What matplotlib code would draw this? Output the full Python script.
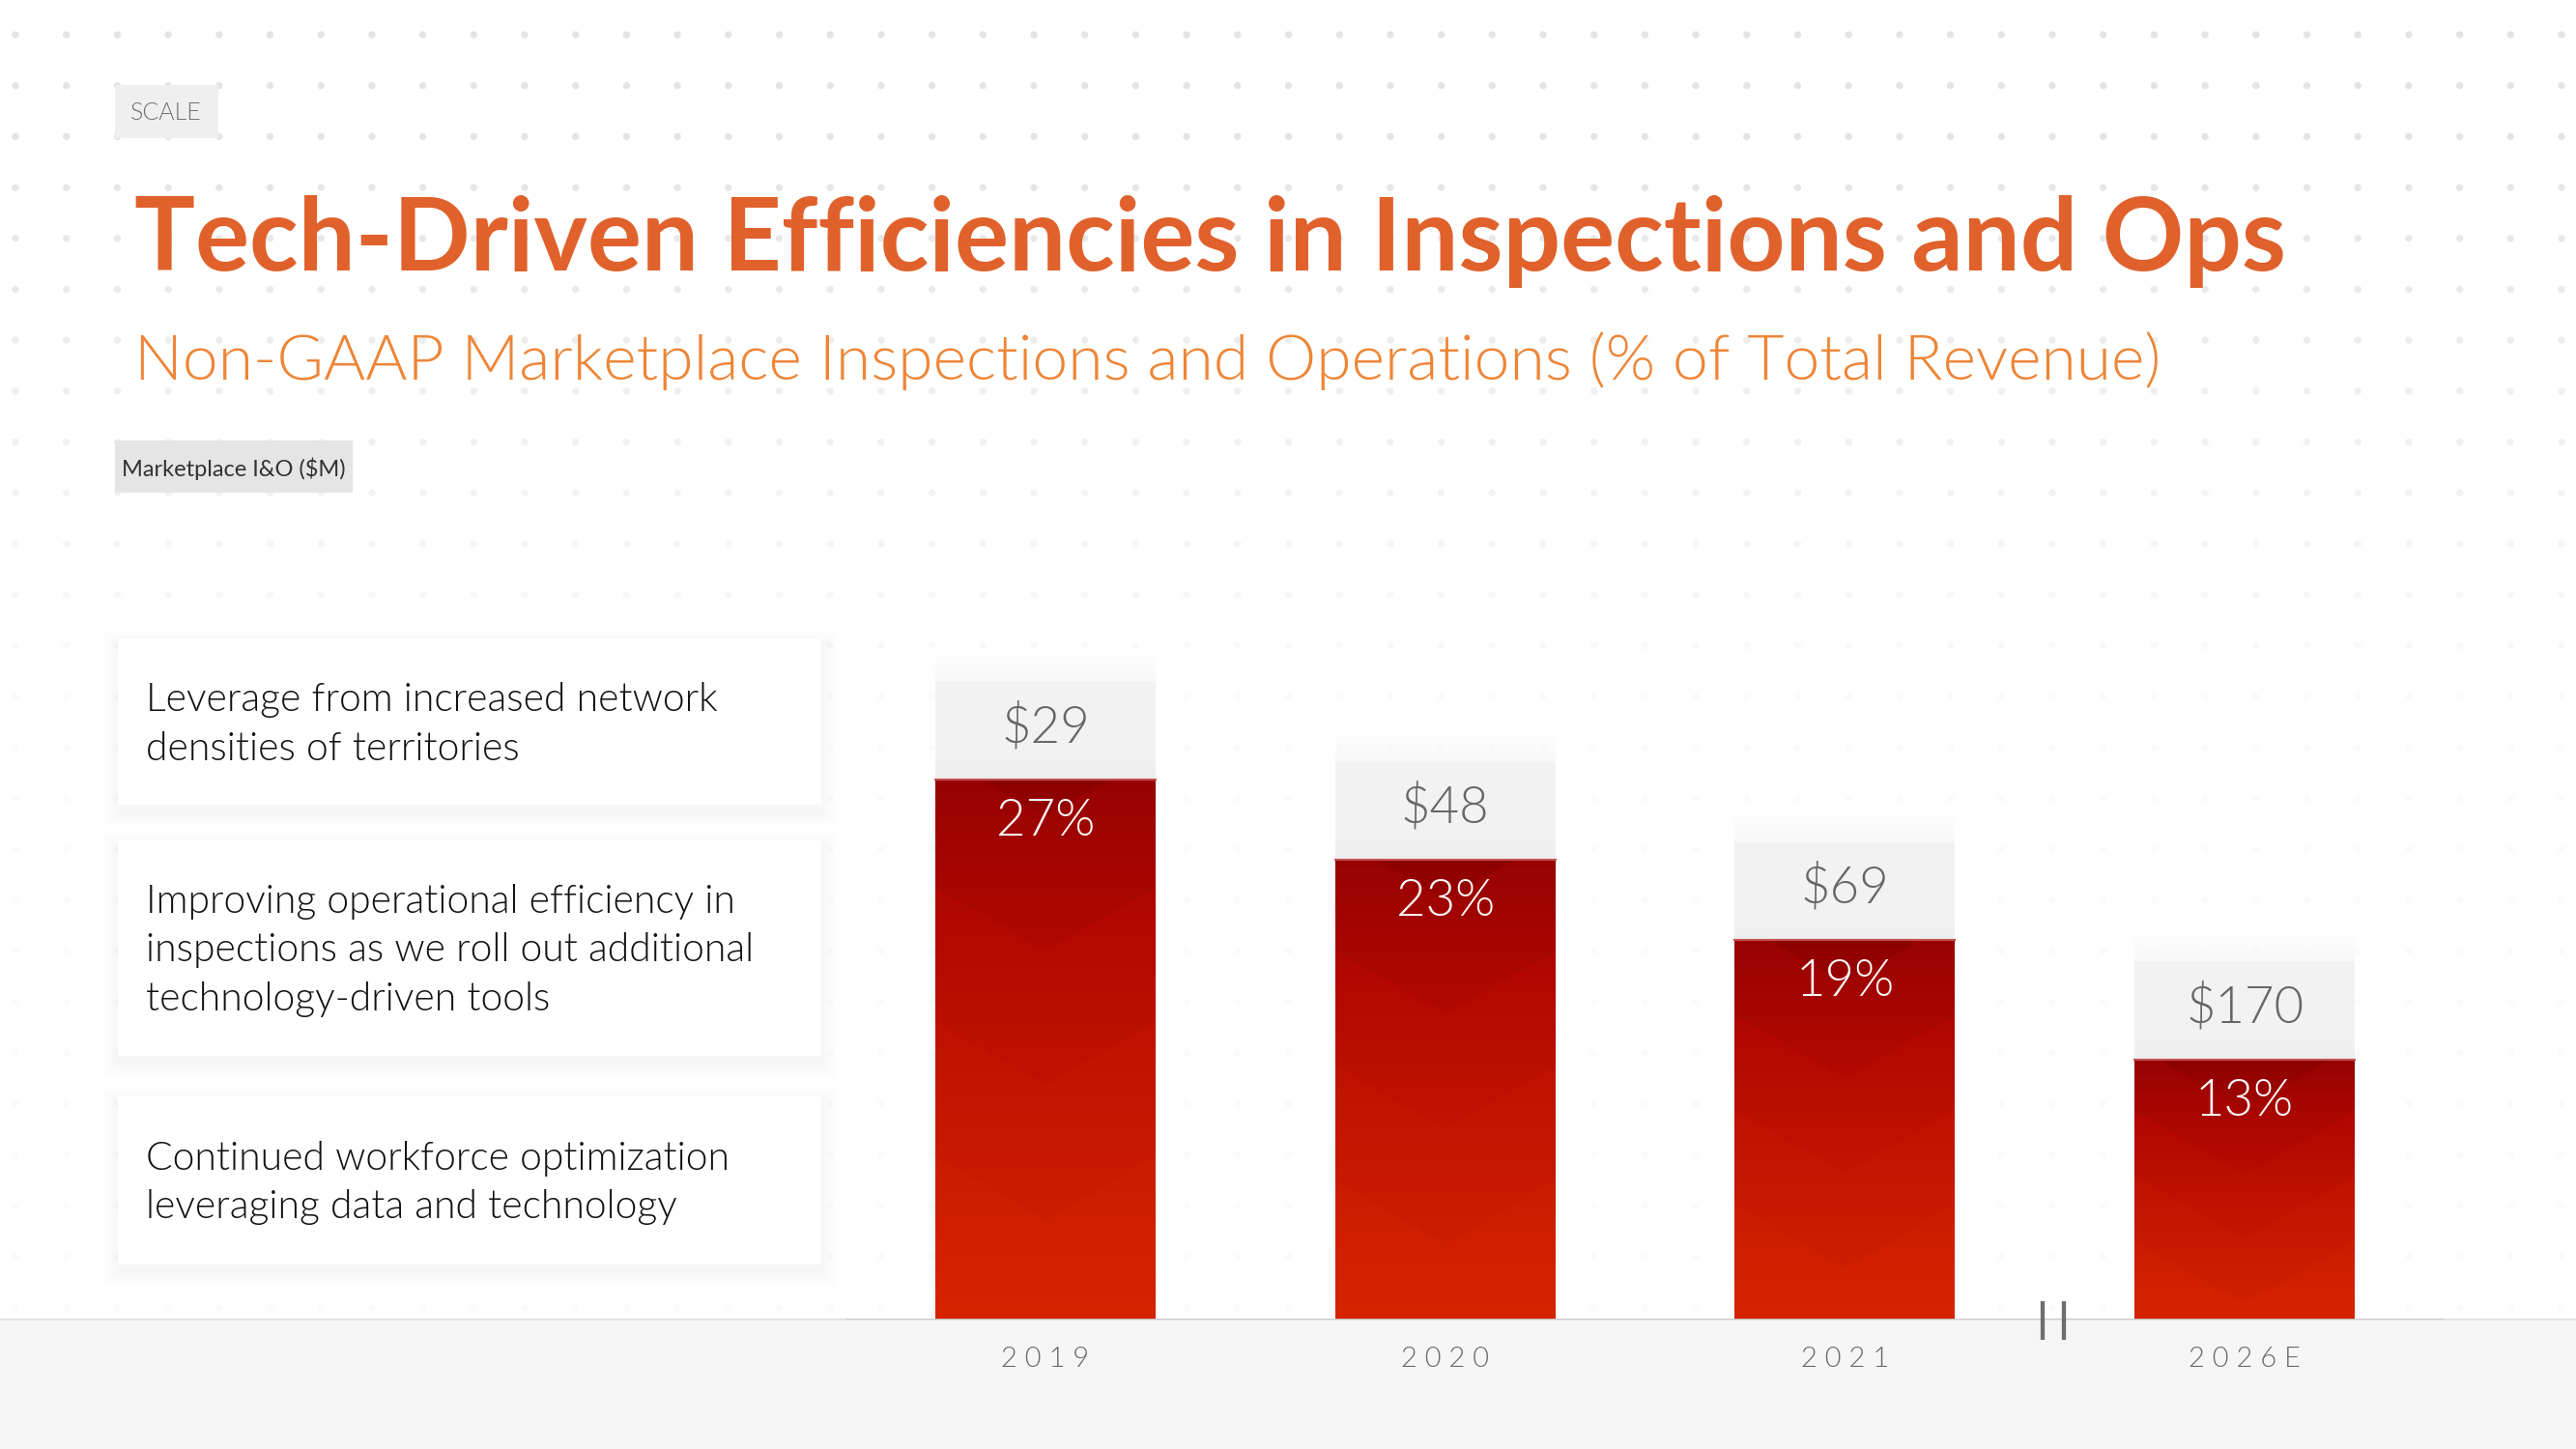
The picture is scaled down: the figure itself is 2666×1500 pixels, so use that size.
import matplotlib
matplotlib.use('Agg')
import matplotlib.pyplot as plt
import numpy as np
from matplotlib.patches import Rectangle
from matplotlib.colors import to_rgb

# data
years = ['2019', '2020', '2021', '2026E']
pct_of_revenue = [27, 23, 19, 13]
io_spend = [29, 48, 69, 170]   # Marketplace I&O ($M)
drivers = [
    'Leverage from increased network\ndensities of territories',
    'Improving operational efficiency in\ninspections as we roll out additional\ntechnology-driven tools',
    'Continued workforce optimization\nleveraging data and technology',
]

plt.rcParams['font.family'] = ['Lato', 'DejaVu Sans']
LIGHT = 300

W, H = 2666, 1500
fig = plt.figure(figsize=(26.66, 15), dpi=100)
fig.patch.set_facecolor('white')

# --- background layer in pixel coords ---
bg = fig.add_axes([0, 0, 1, 1])
bg.set_xlim(0, W)
bg.set_ylim(H, 0)
bg.axis('off')

# dotted grid fading downwards
gx, gy = np.meshgrid(np.arange(16, W, 52.7), np.arange(36, 1360, 52.7))
gx, gy = gx.ravel(), gy.ravel()
alpha = np.clip(1.0 - (gy - 120) / 700.0, 0.12, 1.0)
cols = np.zeros((len(gx), 4))
cols[:, :3] = to_rgb('#e4e4e4')
cols[:, 3] = alpha
bg.scatter(gx, gy, s=28, c=cols, linewidths=0, zorder=0)

# floor
bg.add_patch(Rectangle((0, 1366), W, H - 1366, fc='#f6f6f6', ec='none', zorder=1))
bg.plot([0, W], [1366, 1366], color='#e4e4e4', lw=1.5, zorder=1)

# tags
bg.add_patch(Rectangle((119, 88), 107, 55, fc='#efefef', ec='none', zorder=2))
bg.text(172, 117, 'SCALE', fontsize=18, color='#707070', ha='center', va='center',
        fontweight=LIGHT, zorder=3)
bg.add_patch(Rectangle((119, 456), 246, 54, fc='#e5e5e5', ec='none', zorder=2))
bg.text(126, 485, 'Marketplace I&O ($M)', fontsize=17, color='#333333', ha='left', va='center', zorder=3)

# title block
bg.text(139, 280, 'Tech-Driven Efficiencies in Inspections and Ops', fontsize=75.5,
        fontweight='bold', color='#E0612B', va='baseline', zorder=3)
bg.text(139, 393, 'Non-GAAP Marketplace Inspections and Operations (% of Total Revenue)',
        fontsize=47.5, color='#EE8536', va='baseline', fontweight=LIGHT, zorder=3)

# driver cards with a soft shadow
cards = [(661, 833), (869, 1093), (1134, 1309)]
for (y0, y1), txt in zip(cards, drivers):
    for i in range(8, 0, -1):
        bg.add_patch(Rectangle((122 - i * 2, y0 - i * 2 + 7), 728 + i * 4, (y1 - y0) + i * 4,
                               fc='black', ec='none', alpha=0.005, zorder=2))
    bg.add_patch(Rectangle((122, y0), 728, y1 - y0, fc='white', ec='none', zorder=2))
    bg.text(151, (y0 + y1) / 2 + 3, txt, fontsize=29.4, color='#111111', ha='left', va='center',
            linespacing=1.46, fontweight=LIGHT, zorder=3)

# --- chart axes: 1% = 20.7 px, baseline at y=1366 ---
ax = fig.add_axes([875 / W, (H - 1366) / H, 1655 / W, 766 / H])
ax.patch.set_alpha(0)
for s in ax.spines.values():
    s.set_visible(False)
x = np.arange(len(years))
bars = ax.bar(x, pct_of_revenue, width=0.551, color='none', zorder=2)

xlim, ylim = (-0.5, 3.5), (0, 37)
px_x = 1655 / 4.0
px_y = 766 / 37.0

top_c = np.array(to_rgb('#8A0000'))
mid_c = np.array(to_rgb('#B20800'))
bot_c = np.array(to_rgb('#D62400'))

for rect in bars:
    x0, w, h = rect.get_x(), rect.get_width(), rect.get_height()
    nh, nw = 240, 120
    hp, wp = h * px_y, w * px_x
    depth = np.linspace(0, hp, nh)[:, None]
    dx = np.abs(np.linspace(-wp / 2, wp / 2, nw))[None, :]
    # V-shaped chevron field
    s = (depth - 0.57 * (wp / 2 - dx)) / hp
    t = np.clip(depth / hp + 0 * dx, 0, 1)
    steps = np.clip(np.floor((s + 0.3) * 4) / 4, 0, 1)
    f = np.clip(0.75 * t + 0.25 * steps, 0, 1)
    f = f ** 0.7
    img = np.where(f[..., None] < 0.45,
                   top_c + (mid_c - top_c) * (f[..., None] / 0.45),
                   mid_c + (bot_c - mid_c) * ((f[..., None] - 0.45) / 0.55))
    ax.imshow(img, extent=[x0, x0 + w, 0, h], aspect='auto', origin='upper',
              interpolation='bilinear', zorder=2)
    # light grey cap holding the $ value, fading out at the top
    cap_h, fade_h = 4.9, 1.6
    nc = 100
    yy = np.linspace(0, cap_h + fade_h, nc)  # from bar top upwards
    cap = np.zeros((nc, 2, 4))
    g = np.where(yy < 1.0, 0.935 + 0.015 * yy, 0.95)
    cap[..., 0] = g[:, None]
    cap[..., 1] = g[:, None]
    cap[..., 2] = (g + 0.004)[:, None]
    a = np.where(yy <= cap_h, 1.0, np.clip(1 - (yy - cap_h) / fade_h, 0, 1) * 0.5)
    cap[..., 3] = a[:, None]
    ax.imshow(cap, extent=[x0, x0 + w, h, h + cap_h + fade_h], aspect='auto', origin='lower',
              interpolation='bilinear', zorder=1)
    ax.plot([x0, x0 + w], [h, h], color='#c45050', lw=1.5, zorder=3)

for i, (p, v) in enumerate(zip(pct_of_revenue, io_spend)):
    ax.text(i, p + 2.65, f'${v}', fontsize=38, color='#666666', ha='center', va='center',
            fontweight=LIGHT, zorder=4)
    ax.text(i, p - 2.1, f'{p}%', fontsize=38, color='white', ha='center', va='center',
            fontweight=LIGHT, zorder=4)

# baseline and axis-break marker
ax.axhline(0, color='#c8c8c8', lw=2, zorder=3)
brk = 2.52
for off in (-0.0266, 0.0266):
    ax.plot([brk + off, brk + off], [-1.0, 0.92], color='#6e6e6e', lw=3.1,
            solid_capstyle='butt', clip_on=False, zorder=4)

ax.set_xlim(*xlim)
ax.set_ylim(*ylim)
ax.set_xticks(x, [' '.join(y) for y in years])
ax.set_yticks([])
ax.tick_params(axis='x', length=0, pad=20, labelsize=21, labelcolor='#6a6a6a')
for lbl in ax.get_xticklabels():
    lbl.set_fontweight(LIGHT)

fig.savefig('out.png', dpi=100, facecolor='white')
